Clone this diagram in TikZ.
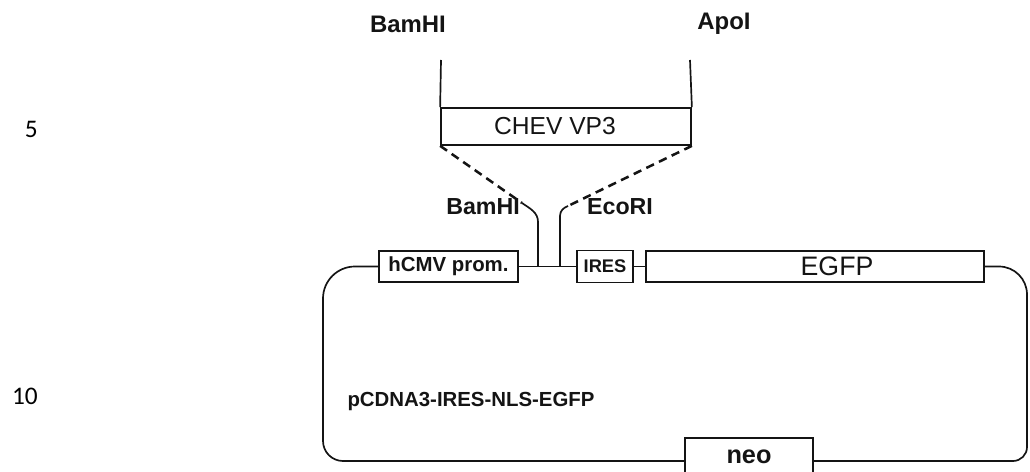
\documentclass[tikz,border=0pt]{standalone}
\usepackage{fontspec}
\setmainfont{Liberation Sans}
\newfontfamily\numfont{Carlito}
\usetikzlibrary{positioning}
\definecolor{inkcolor}{RGB}{20, 20, 20}

\tikzset{
    gene/.style={draw=inkcolor, line width=1.2pt, inner sep=0pt, text=inkcolor},
    backbone/.style={draw=inkcolor, line width=1.2pt},
    site/.style={draw=inkcolor, line width=1.2pt},
    insert/.style={draw=inkcolor, line width=1.8pt, dash pattern=on 6pt off 4pt},
    lbl/.style={text=inkcolor, inner sep=0pt, font=\bfseries\fontsize{17}{20}\selectfont},
    linenum/.style={inner sep=0pt, anchor=east, font=\numfont\fontsize{18}{21}\selectfont}
}

\begin{document}
\begin{tikzpicture}[x=0.025cm, y=-0.025cm]

    \clip (0,0) rectangle (1030,472);

    % ==========================================
    % --- Line numbers ---
    % ==========================================
    \node[linenum] (num5) at (38,129) {5};
    \node[linenum] (num10) at (38,396) {10};

    % ==========================================
    % --- Insert (CHEV VP3) ---
    % ==========================================
    \node[gene, minimum width=6.25cm, minimum height=0.925cm, font=\fontsize{17.5}{20}\selectfont] (vp3) at (566,126.5) {CHEV VP3\hspace*{0.55cm}};

    % Restriction sites of the insert
    \node[lbl] (bamtop) at (408,24) {BamHI};
    \node[lbl] (apotop) at (724,24) {ApoI};
    \coordinate (bamtick) at (441,60);
    \coordinate (apotick) at (690,60);
    \draw[site] (bamtick) -- (vp3.north west);
    \draw[site] (apotick) -- (vp3.north east);

    % ==========================================
    % --- Vector backbone ---
    % ==========================================
    \node[gene, minimum width=3.475cm, minimum height=0.775cm] (cmv) at (448.5,266.5) {\bfseries\fontsize{14.5}{16}\selectfont hCMV prom.};
    \node[gene, minimum width=1.4cm, minimum height=0.8cm] (ires) at (605,266.5) {\bfseries\fontsize{13}{15}\selectfont IRES};
    \node[gene, minimum width=8.45cm, minimum height=0.775cm, font=\fontsize{19}{22}\selectfont] (egfp) at (815,266.5) {\hspace*{1.1cm}EGFP};
    \node[gene, minimum width=3.2cm, minimum height=1.15cm] (neo) at (749,461) {};
    \node[lbl, font=\bfseries\fontsize{18}{21}\selectfont, below=0.3cm of neo.north] (neolabel) {neo};

    % Cloning sites on the backbone
    \coordinate (bamsite) at (538,266.5);
    \coordinate (ecosite) at (560,266.5);

    % Backbone line
    \draw[backbone] (cmv.east) -- (ires.west);
    \draw[backbone] (ires.east) -- (egfp.west);
    \draw[backbone] (egfp.east) [rounded corners=0.7cm] -- (1027,266.5) [rounded corners=0.35cm] -- (1027,461) -- (neo.east);
    \draw[backbone] (neo.west) [rounded corners=0.5cm] -- (323,461) [rounded corners=0.8cm] -- (323,266.5) -- (cmv.west);

    % Plasmid name
    \node[lbl, font=\bfseries\fontsize{14.5}{17}\selectfont] (plasmid) at (471,401) {pCDNA3-IRES-NLS-EGFP};

    % ==========================================
    % --- Ligation of the insert ---
    % ==========================================
    \node[lbl, font=\bfseries\fontsize{16.5}{19}\selectfont] (bamlow) at (483,207) {BamHI};
    \node[lbl, font=\bfseries\fontsize{16.5}{19}\selectfont] (ecolow) at (620,207) {EcoRI};
    \coordinate (bamend) at (522,203);
    \coordinate (ecoend) at (568,206);

    \draw[insert] (vp3.south west) -- (bamend);
    \draw[insert] (vp3.south east) -- (ecoend);
    \draw[site] (bamend) to[out=-35, in=90] (538,222) -- (bamsite);
    \draw[site] (ecoend) to[out=200, in=90] (560,216) -- (ecosite);

\end{tikzpicture}
\end{document}
